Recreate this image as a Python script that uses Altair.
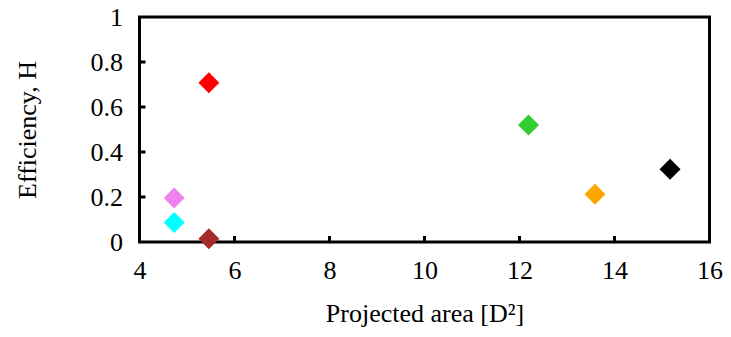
import altair as alt
import pandas as pd

# data
proj_area = [5.46, 4.73, 4.73, 5.46, 12.19, 13.59, 15.17]
efficiency = [0.708, 0.196, 0.087, 0.014, 0.52, 0.212, 0.323]
colors = ["#ff0000", "#ee82ee", "#00ffff", "#a52a2a", "#32cd32", "#ffa500", "#000000"]
x_ticks = [4, 6, 8, 10, 12, 14, 16]
y_ticks = [0, 0.2, 0.4, 0.6, 0.8, 1]

df = pd.DataFrame({"x": proj_area, "y": efficiency, "c": colors})
xt = pd.DataFrame({"v": x_ticks[1:-1]})
yt = pd.DataFrame({"v": y_ticks[1:-1]})

W, H = 570, 225
FONT = "Liberation Serif"
FS = 26

xscale = alt.Scale(domain=[4, 16], nice=False)
yscale = alt.Scale(domain=[0, 1], nice=False)
xaxis = alt.Axis(values=x_ticks, format="~g", title="Projected area [D²]",
                 labelPadding=15, titlePadding=17, labelFlush=False)
yaxis = alt.Axis(values=y_ticks, format="~g", title="Efficiency, H",
                 labelPadding=17, titlePadding=50, labelFlush=False)

pts = alt.Chart(df).mark_point(shape="diamond", filled=True, size=440, opacity=1).encode(
    x=alt.X("x:Q", scale=xscale, axis=xaxis),
    y=alt.Y("y:Q", scale=yscale, axis=yaxis),
    color=alt.Color("c:N", scale=None),
)

xtick = alt.Chart(xt).mark_rule(color="black", strokeWidth=3).encode(
    x=alt.X("v:Q", scale=xscale, axis=xaxis),
    y=alt.value(H), y2=alt.value(H - 6),
)
ytick = alt.Chart(yt).mark_rule(color="black", strokeWidth=3).encode(
    y=alt.Y("v:Q", scale=yscale, axis=yaxis),
    x=alt.value(0), x2=alt.value(6),
)

chart = alt.layer(xtick, ytick, pts).properties(
    width=W, height=H,
    autosize=alt.AutoSizeParams(type="none"),
    padding={"left": 131.5, "top": 9, "right": 13.5, "bottom": 87},
).configure_view(
    stroke="black", strokeWidth=3
).configure_axis(
    domain=False, ticks=False, grid=False,
    labelFont=FONT, labelFontSize=FS, labelColor="black",
    titleFont=FONT, titleFontSize=FS, titleFontWeight="normal", titleColor="black",
)

chart.save("out.html", embed_options={"renderer": "svg", "actions": False})
